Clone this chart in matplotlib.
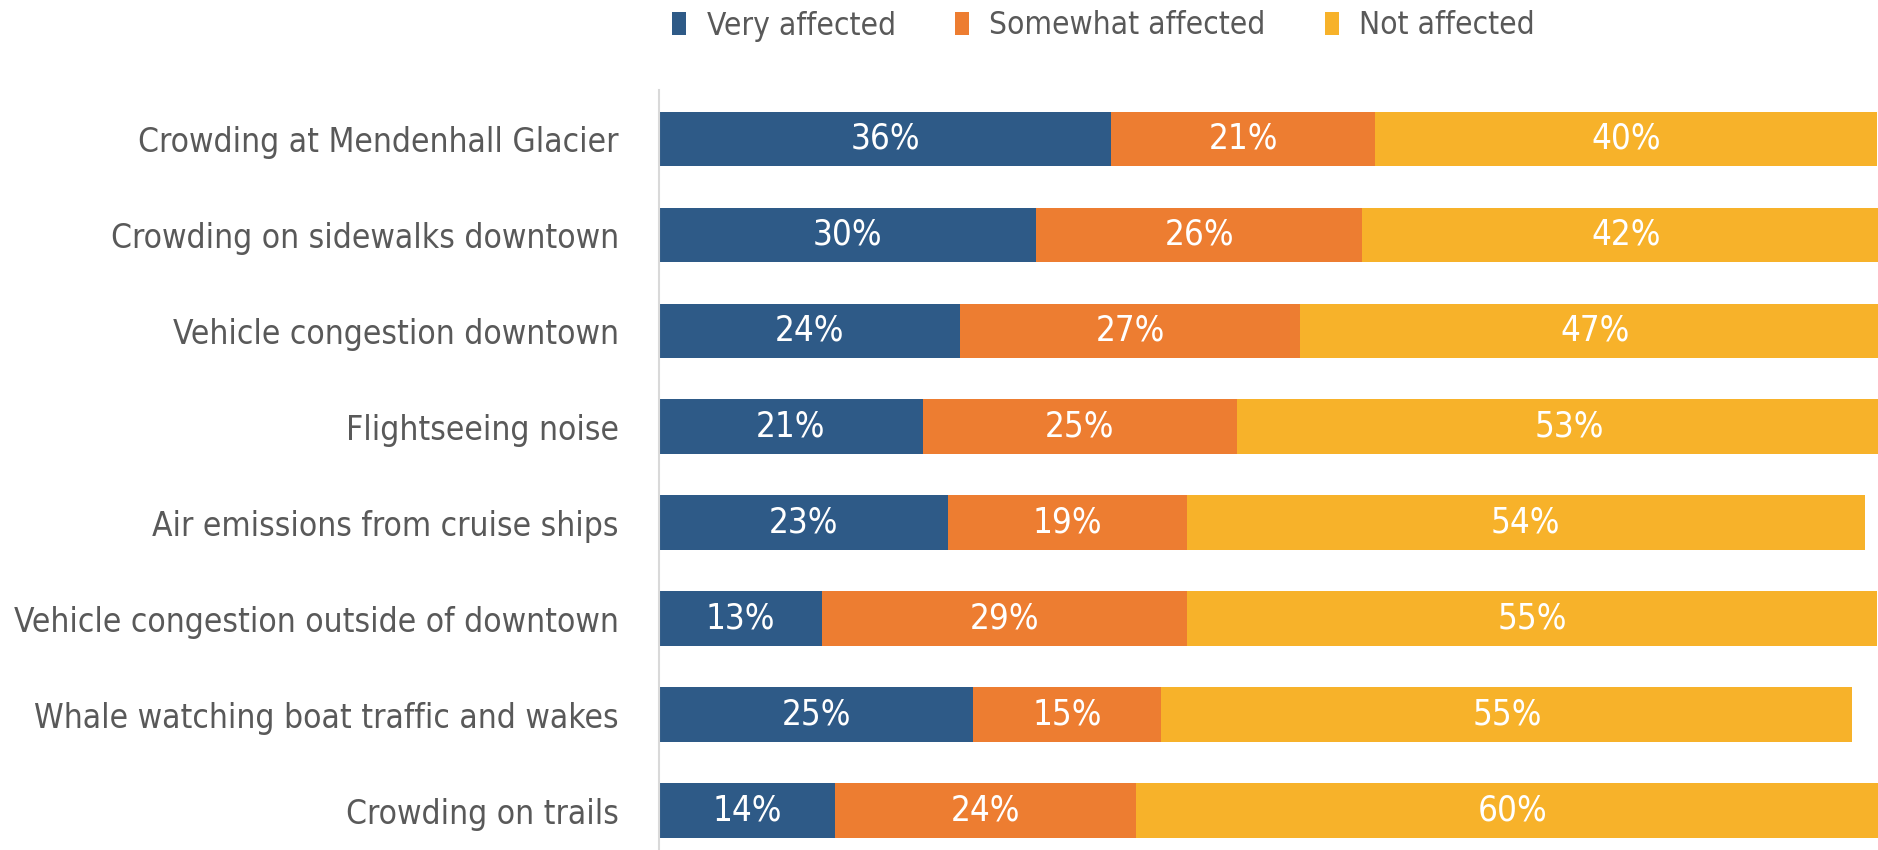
import matplotlib.pyplot as plt
from matplotlib import font_manager
from matplotlib.patches import Patch

# pick a narrow font if the sandbox has one
names = {f.name for f in font_manager.fontManager.ttflist}
if 'Liberation Sans Narrow' in names:
    plt.rcParams['font.family'] = ['Liberation Sans Narrow', 'DejaVu Sans']
else:
    plt.rcParams['font.family'] = ['DejaVu Sans']
    plt.rcParams['font.stretch'] = 'condensed'

categories = [
    "Crowding at Mendenhall Glacier",
    "Crowding on sidewalks downtown",
    "Vehicle congestion downtown",
    "Flightseeing noise",
    "Air emissions from cruise ships",
    "Vehicle congestion outside of downtown",
    "Whale watching boat traffic and wakes",
    "Crowding on trails",
]
very = [36, 30, 24, 21, 23, 13, 25, 14]
somewhat = [21, 26, 27, 25, 19, 29, 15, 24]
not_aff = [40, 42, 47, 53, 54, 55, 55, 60]

series = ["Very affected", "Somewhat affected", "Not affected"]
colors = ["#2E5A87", "#ED7D31", "#F7B22A"]
text_gray = "#595959"

fig = plt.figure(figsize=(18.78, 8.5), dpi=100)
ax = fig.add_axes([659 / 1878, 0, 1 - 659 / 1878, 1 - 90 / 850])

y = list(range(len(categories)))
left = [0] * len(categories)
for vals, col in zip([very, somewhat, not_aff], colors):
    ax.barh(y, vals, left=left, color=col, height=0.57)
    for i, v in enumerate(vals):
        ax.text(left[i] + v / 2, i, f"{v}%", ha='center', va='center',
                color='white', fontsize=25)
    left = [l + v for l, v in zip(left, vals)]

ax.set_xlim(0, 97.05)
ax.set_ylim(7.41, -0.51)
ax.set_yticks(y)
ax.set_yticklabels(categories, fontsize=24, color=text_gray)
ax.tick_params(axis='y', length=0, pad=29)
ax.set_xticks([])
for s in ['top', 'right', 'bottom']:
    ax.spines[s].set_visible(False)
ax.spines['left'].set_color('#D9D9D9')
ax.spines['left'].set_linewidth(1.5)

handles = [Patch(facecolor=c, edgecolor='none', label=s) for s, c in zip(series, colors)]
leg = fig.legend(handles=handles, loc='center', ncol=3, frameon=False,
                 bbox_to_anchor=(1103.5 / 1878, 1 - 26 / 850),
                 fontsize=22.7, handlelength=0.45, handleheight=0.76,
                 handletextpad=0.65, columnspacing=1.87)
for t in leg.get_texts():
    t.set_color(text_gray)

fig.savefig("out.png", dpi=100)
